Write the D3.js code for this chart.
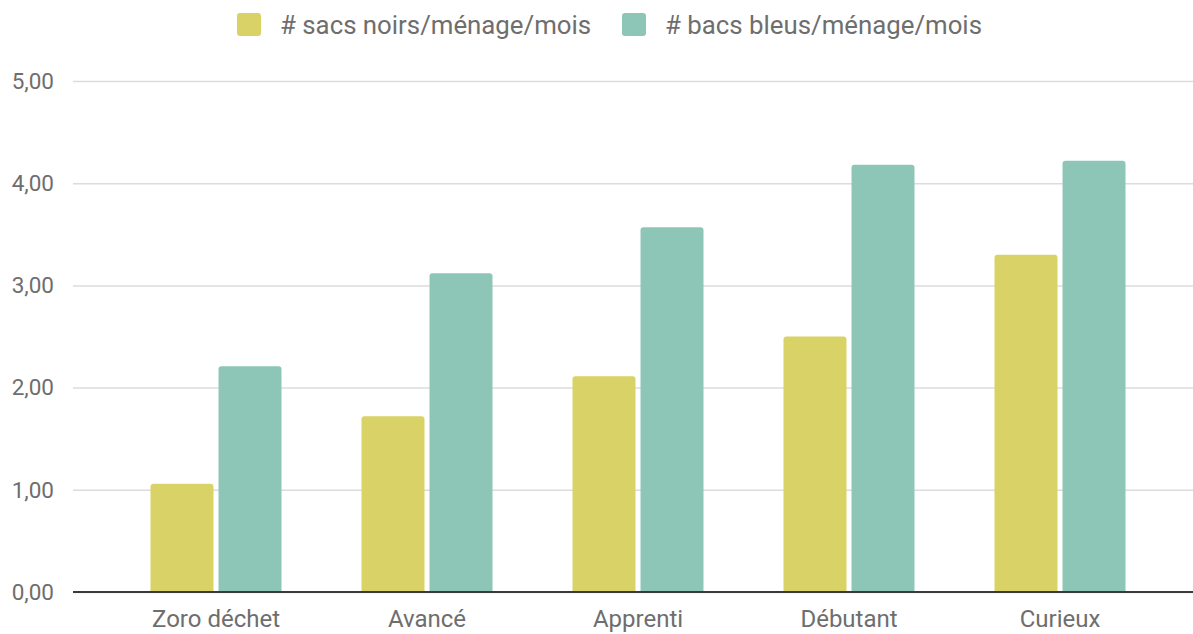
<!DOCTYPE html>
<html>
<head>
<meta charset="utf-8">
<script src="https://cdn.jsdelivr.net/npm/d3@7"></script>
<style>
    body { margin: 0; background: #fff; }
    svg text { font-family: Roboto, "Noto Sans", sans-serif; }
</style>
</head>
<body>
<div id="chart"></div>
<script>
// chart data
var categories = ["Zoro déchet", "Avancé", "Apprenti", "Débutant", "Curieux"];
var seriesNames = ["# sacs noirs/ménage/mois", "# bacs bleus/ménage/mois"];
var sacsNoirs = [1.06, 1.72, 2.11, 2.50, 3.30];
var bacsBleus = [2.21, 3.12, 3.57, 4.18, 4.22];
var yTicks = [0, 1, 2, 3, 4, 5];
var colors = ["#d9d267", "#8dc6b6"];

drawChart();

function drawChart() {
    var width = 1193, height = 634;

    var svg = d3.select("#chart")
        .append("svg")
        .attr("width", width)
        .attr("height", height);

    // scales
    var y = d3.scaleLinear()
        .domain([0, 5])
        .range([592, 81]);

    var x0 = d3.scaleBand()
        .domain(categories)
        .range([110.5, 1165.5]);

    var groupWidth = 131;
    var x1 = d3.scaleBand()
        .domain(seriesNames)
        .range([0, groupWidth])
        .paddingInner(0.074);

    // gridlines + y labels
    var yAxis = svg.append("g")
        .attr("transform", "translate(73,0)")
        .call(d3.axisLeft(y)
            .tickValues(yTicks)
            .tickSize(-1120)
            .tickPadding(19)
            .tickFormat(function (d) { return d3.format(".2f")(d).replace(".", ","); }));
    yAxis.select(".domain").remove();
    yAxis.selectAll(".tick line")
        .attr("stroke", "#dcdcdc")
        .attr("stroke-width", 1.5);
    yAxis.selectAll(".tick text")
        .attr("fill", "#6e6e6e")
        .style("font-size", "22.5px");

    // bars
    var rows = categories.map(function (c, i) {
        return { cat: c, values: [sacsNoirs[i], bacsBleus[i]] };
    });

    var groups = svg.selectAll("g.group")
        .data(rows)
        .enter()
        .append("g")
        .attr("class", "group")
        .attr("transform", function (d) {
            return "translate(" + (x0(d.cat) + (x0.bandwidth() - groupWidth) / 2) + ",0)";
        });

    groups.selectAll("path")
        .data(function (d) {
            return d.values.map(function (v, j) { return { name: seriesNames[j], value: v, idx: j }; });
        })
        .enter()
        .append("path")
        .attr("fill", function (d) { return colors[d.idx]; })
        .attr("d", function (d) {
            var bx = x1(d.name), bw = x1.bandwidth();
            var top = y(d.value), base = y(0), r = 3;
            return "M" + bx + "," + base +
                "V" + (top + r) +
                "Q" + bx + "," + top + " " + (bx + r) + "," + top +
                "H" + (bx + bw - r) +
                "Q" + (bx + bw) + "," + top + " " + (bx + bw) + "," + (top + r) +
                "V" + base + "Z";
        });

    // baseline
    svg.append("line")
        .attr("x1", 73)
        .attr("x2", 1193)
        .attr("y1", y(0))
        .attr("y2", y(0))
        .attr("stroke", "#3a3a3a")
        .attr("stroke-width", 2);

    // x labels
    var xAxis = svg.append("g")
        .attr("transform", "translate(0," + y(0) + ")")
        .call(d3.axisBottom(x0).tickSize(0).tickPadding(18));
    xAxis.select(".domain").remove();
    xAxis.selectAll(".tick text")
        .attr("fill", "#6e6e6e")
        .style("font-size", "24px");

    // legend
    var legendX = [237, 622];
    var legend = svg.selectAll("g.legend")
        .data(seriesNames)
        .enter()
        .append("g")
        .attr("class", "legend")
        .attr("transform", function (d, i) { return "translate(" + legendX[i] + ",13)"; });

    legend.append("rect")
        .attr("width", 24)
        .attr("height", 23)
        .attr("rx", 3)
        .attr("fill", function (d, i) { return colors[i]; });

    legend.append("text")
        .attr("x", 43)
        .attr("y", 12)
        .attr("dy", "0.35em")
        .attr("fill", "#6e6e6e")
        .style("font-size", "25.8px")
        .text(function (d) { return d; });
}
</script>
</body>
</html>
